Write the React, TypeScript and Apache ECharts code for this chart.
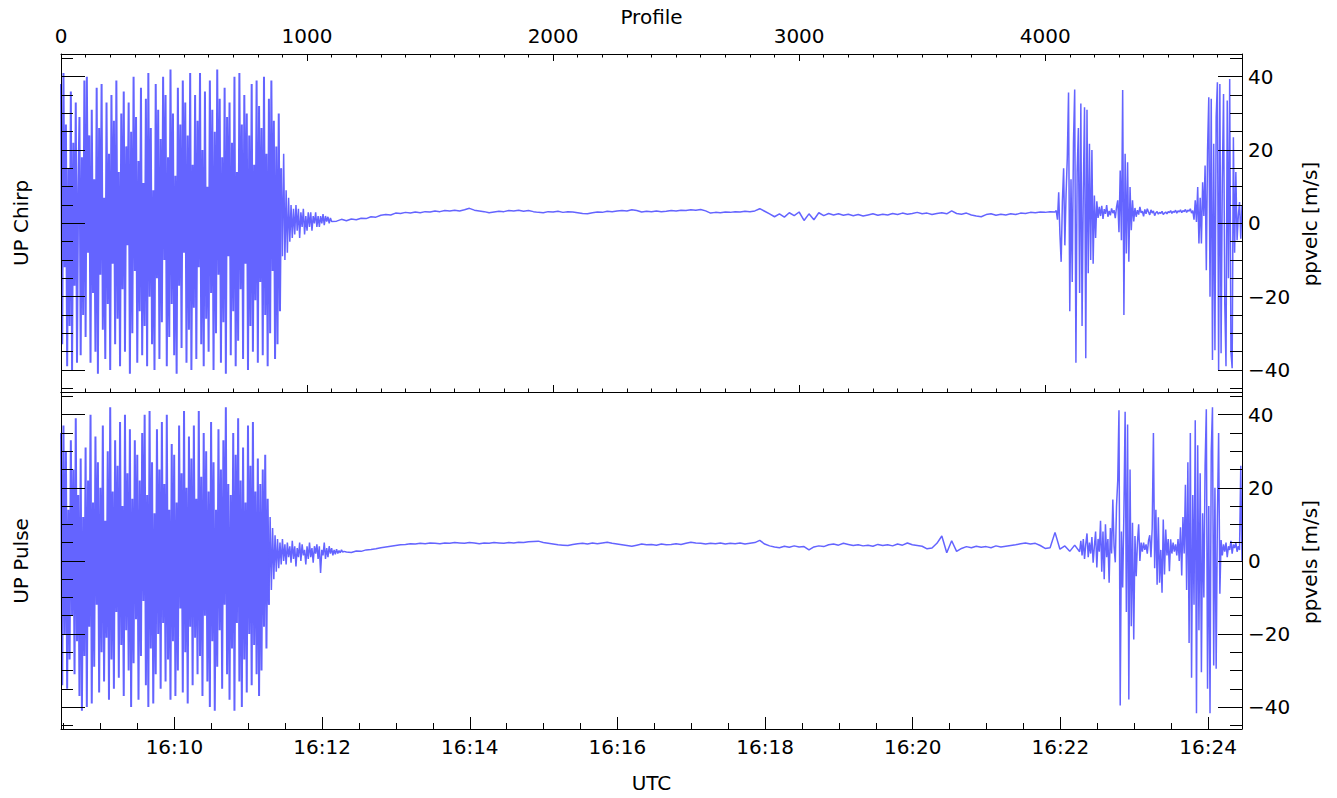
import React, { useEffect, useRef } from "react";
import * as echarts from "echarts";

// ---------- ranges ----------
const PROFILE_MIN = 0;
const PROFILE_MAX = 4800;
const UTC_MIN = 507.8; // seconds after 16:00 UTC  (16:08:27.8)
const UTC_MAX = 1467.6; // 16:24:27.6
const VEL_MIN = -46;
const VEL_MAX = 46.2;

// ---------- tick values ----------
const profileTicks = [0, 1000, 2000, 3000, 4000];
const utcTicks = [600, 720, 840, 960, 1080, 1200, 1320, 1440];
const velTicks = [-40, -20, 0, 20, 40];
const PROFILE_MINOR_STEP = 100;
const UTC_MINOR_STEP = 30;
const VEL_MINOR_STEP = 5;

// ---------- UP Chirp (ppvelc), sampled by profile ----------
const chirpDenseStart = 0;
const chirpDenseStep = 5;
const chirpDense = [
  38, -33, 41, -12, 27, -39, 15, -28, 36, -40,
  22, -17, 33, -38, 9, 29, -36, 18, -25, 39,
  -31, 40, -8, 24, -38, 31, -19, 12, -35, 37,
  -41, 26, -14, 38, -29, 7, -37, 33, -22, 19,
  -40, 35, -11, 28, -33, 39, -26, 14, -39, 30,
  -18, 36, -35, 21, -6, 33, -41, 25, -30, 40,
  -13, 29, -38, 17, -24, 37, -36, 11, -28, 34,
  -39, 41, -20, 26, -33, 9, -40, 38, -15, 31,
  -37, 23, -27, 40, -10, 35, -39, 18, -31, 42,
  -22, 30, -36, 13, -41, 37, -17, 27, -34, 39,
  -8, 33, -38, 24, -29, 41, -40, 16, -23, 35,
  -37, 28, -12, 41, -33, 20, -39, 36, -26, 10,
  -35, 39, -19, 31, -40, 25, -30, 42, -14, 34,
  -38, 18, -27, 37, -41, 29, -9, 33, -36, 22,
  -24, 40, -39, 14, -32, 41, -18, 27, -37, 35,
  -11, 30, -40, 24, -28, 38, -35, 16, -21, 39,
  -38, 32, -16, 26, -36, 40, -25, 19, -39, 34,
  -30, 39, -13, 28, -37, 21, -33, 30, -24, 15,
];
const chirpDecayStart = 900;
const chirpDecayStep = 5;
const chirpDecay = [
  -9, 19, -10, 9, -8, 7, -5, 5, -4, 4,
  -3, 5, -2, 4, -4, 3, -1, 4, -3, 2,
  -2, 3, -1, 3, -2, 2, 0, 3, -1, 2,
  -1, 2, 0, 2.5, -0.5, 2, 0.5, 1.8, 0, 1.5, 0.5,
];
const chirpCalmStart = 1120;
const chirpCalmStep = 20;
const chirpCalm = [
  0.6, 1.1, 0.7, 1.2, 1.0, 1.4, 1.3, 1.8, 1.7, 2.2,
  2.4, 2.3, 2.8, 2.7, 3.0, 2.8, 3.1, 2.9, 3.2, 3.1,
  3.4, 3.2, 3.5, 3.4, 3.6, 3.4, 3.7, 4.1, 3.6, 3.4,
  3.2, 2.9, 3.1, 3.3, 3.2, 3.5, 3.4, 3.6, 3.3, 3.5,
  3.2, 3.0, 2.9, 3.2, 3.1, 3.3, 3.0, 3.2, 3.1, 2.9,
  2.7, 2.6, 2.9, 3.1, 3.0, 3.3, 3.2, 3.4, 3.5, 3.4,
  3.7, 3.5, 3.1, 3.3, 3.2, 3.4, 3.2, 3.3, 3.5, 3.4,
  3.6, 3.5, 3.7, 3.6, 3.8, 3.4, 2.8, 3.0, 2.9, 3.1,
  3.0, 3.2, 3.1, 3.3, 3.2, 3.4, 4.0, 3.3, 2.6, 1.8,
  2.6, 1.7, 2.9, 2.1, 3.1, 0.8, 2.6, 1.0, 2.9, 2.1,
  2.7, 2.3, 2.6, 2.2, 2.5, 2.1, 2.4, 2.0, 2.3, 2.6,
  2.2, 2.5, 2.3, 2.7, 2.4, 2.8, 2.5, 2.7, 3.0, 2.6,
  2.8, 2.4, 2.7, 2.9, 2.6, 3.4, 2.7, 2.5, 2.8, 2.3,
  2.0, 1.8, 2.4, 2.6, 2.2, 2.5, 2.3, 2.6, 2.4, 2.8,
  2.7, 3.0, 2.9, 3.1, 3.0, 3.2, 3.1,
];
const chirpEndStart = 4045;
const chirpEndStep = 5;
const chirpEnd = [
  3.5, 1.0, 8.5, -3, -10.5, 6, 15, -6, 8, 18,
  35.7, -24, 12, -16, 22, 36.5, -38, 14, 26, -19,
  32.7, -28, 9, 31.7, -36.8, 31, -13.6, 21.7, -10, 20,
  -11, 7.6, -4, 6,
  1.5, 4.5, 2, 4.8, 1.2, 3.9, 2.6, 5.0, 1.8, 3.4, 2.2, 4.1, 2.8, 3.6, 1.4, 4.4,
  6.3, -2.4, 14.4, -4.6, 36.4, -25, 19, -8.2, 16.7, -10.5, 9.9, -1.9, 6.3, 0.5,
  4.2, 1.8, 3.6, 2.4, 4.5, 2.9, 3.3, 1.9, 3.8, 2.6,
  4.0, 3.1, 2.3, 3.7, 2.8, 3.4, 2.1, 2.9, 3.2, 2.5,
  3.0, 2.7, 3.3, 2.4, 2.8, 3.1, 2.6, 3.2, 2.9, 3.5,
  2.7, 3.3, 3.0, 3.6, 2.8, 3.4, 3.1, 3.7, 2.9, 3.5,
  3.2, 3.8, 3.0, 3.6, 3.3, 4.0, 2.8, 3.5,
  1.0, 6.3, 0.4, 9.9, -5.5, 7, -5.5, 11.2, 2, 15.8,
  -12.8, 20, 34.4, -20, 34, -37.3, 21.7, -34.6, 29, 38.5,
  -40, 38, -35.4, 12, 35.3, -22, -39, 33.5, -15, 39.4,
  -35, -39.5, 23.5, -8, 14, -4.6, 2, 5.8, -4.2, 5,
];

// ---------- UP Pulse (ppvels), sampled by profile ----------
const pulseDenseStart = 0;
const pulseDenseStep = 5;
const pulseDense = [
  35, -34, 37, -20, 30, -35, 14, -27, 33, -15,
  25, -31, 39, -22, 18, -37, 28, -41, 12, -26,
  31, -40, 22, -18, 40, -39, 16, -29, 34, -12,
  27, -36, 20, -25, 37, -33, 11, -21, 30, -38,
  42, -27, 19, -35, 33, -14, 26, -32, 38, -23,
  15, -37, 40, -19, 24, -30, 36, -40, 17, -28,
  33, -16, 29, -38, 22, -26, 35, -11, 40, -34,
  18, -40, 41, -24, 27, -39, 13, -31, 36, -20,
  25, -35, 38, -17, 21, -33, 40, -27, 14, -38,
  32, -22, 29, -37, 16, -30, 37, -13, 24, -36,
  41, -25, 20, -39, 34, -18, 28, -34, 37, -21,
  17, -31, 41, -26, 23, -37, 35, -15, 30, -33,
  19, -40, 38, -22, 27, -41, 14, -29, 36, -19,
  25, -35, 33, -12, 42, -31, 21, -38, 18, -24,
  35, -41, 29, -17, 39, -33, 22, -40, 31, -27,
  16, -36, 37, -20, 26, -34, 38, -23, 19, -31,
  28, -37, 21, -30, 25, -18, 29, -24, 17, -12,
];
const pulseDecayStart = 850;
const pulseDecayStep = 5;
const pulseDecay = [
  12, -8, 9, -5, 7, -3, 6, -2, 5, -1,
  6, 0, 4.5, -1, 5, 1, 4, -0.5, 5.5, 0.5,
  4, -1.5, 3.5, 1, 5, 0, 4.5, 1.5, 3, -1,
  4, 0.5, 5, 1, 3.5, -0.5, 4, 2, 4.5, 0.5,
  4, -3.3, 3, 1.5, 5, 0.5, 3.5, 1, 4, 2,
  3.5, 1.5, 3, 1.8, 3.2, 2, 2.8, 2.2, 3, 2.4, 2.6,
];
const pulseCalmStart = 1160;
const pulseCalmStep = 20;
const pulseCalm = [
  2.4, 2.3, 2.7, 2.6, 3.0, 3.1, 3.3, 3.6, 3.8, 4.0,
  4.2, 4.4, 4.5, 4.7, 4.6, 4.8, 4.7, 4.9, 4.8, 4.7,
  4.9, 4.8, 5.0, 4.9, 4.8, 5.0, 4.9, 4.7, 4.9, 4.8,
  5.0, 4.9, 4.8, 5.0, 4.9, 5.1, 5.0, 5.2, 5.3, 5.4,
  5.0, 4.8, 4.6, 4.4, 4.3, 4.2, 4.5, 4.7, 4.8, 4.6,
  4.9, 4.7, 4.9, 5.1, 4.8, 4.6, 4.4, 4.2, 4.0, 4.3,
  4.6, 4.4, 4.5, 4.3, 4.6, 4.4, 4.5, 4.7, 4.5, 4.8,
  5.1, 4.9, 4.8, 4.6, 4.8, 4.7, 4.9, 4.6, 4.8, 4.7,
  4.9, 4.6, 4.8, 5.0, 5.6, 4.6, 4.1, 3.8, 3.6, 4.0,
  3.7, 4.1, 3.8, 3.9, 3.0, 3.8, 4.1, 3.9, 4.4, 4.6,
  4.3, 4.8, 4.5, 4.2, 4.4, 4.1, 4.3, 4.0, 4.5, 4.2,
  4.4, 4.1, 4.6, 4.3, 4.9, 4.4, 4.2, 4.0, 3.3, 3.5,
  4.8, 6.8, 2.2, 5.5, 2.6, 3.4, 3.9, 3.6, 4.0, 3.7,
  3.9, 3.6, 4.1, 3.8, 4.0, 4.2, 4.4, 4.7, 4.9, 4.6,
  4.8, 4.2, 3.4, 3.6, 7.8, 3.2, 4.1, 2.6, 4.3, 2.5,
];
const pulseEndStart = 4145;
const pulseEndStep = 5;
const pulseEnd = [
  5.5, 1.5, 6, 0.5, 4.5, 7.5, 1, 5, 2, 6.5, -0.5, 4, 8, -1.8, 6, 2.5,
  11, -3, 8, -5, 10, 1, 6, -6, 9, 2,
  16.8, 4, -0.4, 15, 22, 41.2, -39.6, 8, -7.3, 13.2,
  40.8, -14, 37.3, -37.9, 25, -17.9, 10.4, -21.5, 6.8, -4.2,
  5, 10, 0, 5, 2.5, 5, 3, 4.5, 2, 5.5,
  7, 1, 9, 35, -2, 14, -6.5, 11.9, -6, 3,
  -8.7, 11.3, -3.7, 8.6, 1.5, 6, -2.8, 5.9, 2, 5,
  2.5, 4.5, 1.5, 6,
  0, 9.2, -4, 12, 2, 20.8, -8, 27, -22.5, 35,
  -32, 18, -12, 38.5, -41.7, 31.6, -19, 24, -30.5, 13,
  -10, 26, 41.5, -35, 15, -41.7, 30, 42, -28.6, 20,
  -29.5, 12, 35, -9, 5.7,
  1.5, 4.5, 2.5, 5, 1, 4, 3, 5.5, 2, 4.5, 3.5, 5, 2.5, 4, 3,
  26, 0,
];

// ---------- styling ----------
const FONT = "'DejaVu Sans', 'Liberation Sans', sans-serif";
const LINE_COLOR = "#6464ff";
const AXIS = { color: "#000", width: 1 };

function seg(start: number, step: number, vals: number[]): [number, number][] {
  return vals.map((v, i) => [start + i * step, v]);
}
function stepsBetween(lo: number, hi: number, step: number): number[] {
  const out: number[] = [];
  for (let v = lo; v <= hi + 1e-9; v += step) out.push(Math.round(v * 1000) / 1000);
  return out;
}
const fmtVel = (v: number) => (v < 0 ? "\u2212" + Math.abs(v) : String(v));
const fmtUtc = (v: number) => "16:" + String(Math.round(v / 60)).padStart(2, "0");
const fmtProfile = (v: number) => String(Math.round(v));

const GRID_LEFT = 61;
const GRID_WIDTH = 1181;
const TOP_PANEL = { top: 54, height: 338 };
const BOTTOM_PANEL = { top: 392, height: 337 };

export default function App() {
  const ref = useRef<HTMLDivElement>(null);

  useEffect(() => {
    if (!ref.current) return;
    const chart = echarts.init(ref.current, undefined, { renderer: "svg" });

    const chirpDenseData = seg(chirpDenseStart, chirpDenseStep, chirpDense);
    const chirpRestData = [
      chirpDenseData[chirpDenseData.length - 1],
      ...seg(chirpDecayStart, chirpDecayStep, chirpDecay),
      ...seg(chirpCalmStart, chirpCalmStep, chirpCalm),
      ...seg(chirpEndStart, chirpEndStep, chirpEnd),
    ];
    const pulseDenseData = seg(pulseDenseStart, pulseDenseStep, pulseDense);
    const pulseRestData = [
      pulseDenseData[pulseDenseData.length - 1],
      ...seg(pulseDecayStart, pulseDecayStep, pulseDecay),
      ...seg(pulseCalmStart, pulseCalmStep, pulseCalm),
      ...seg(pulseEndStart, pulseEndStep, pulseEnd),
    ];

    const profileMinor = stepsBetween(PROFILE_MIN + PROFILE_MINOR_STEP, PROFILE_MAX - PROFILE_MINOR_STEP, PROFILE_MINOR_STEP);
    const utcMinor = stepsBetween(510, 1440, UTC_MINOR_STEP);
    const velMinor = stepsBetween(-45, 45, VEL_MINOR_STEP);

    const labelStyle = { fontSize: 20, color: "#000", fontFamily: FONT, fontWeight: "normal" as any };

    const profAxis = (gridIndex: number, position: string, opts: any) => ({
      type: "value",
      gridIndex,
      position,
      min: PROFILE_MIN,
      max: PROFILE_MAX,
      z: 5,
      axisLine: { show: true, onZero: false, lineStyle: AXIS },
      splitLine: { show: false },
      ...opts,
    });
    const utcAxis = (gridIndex: number, opts: any) => ({
      type: "value",
      gridIndex,
      position: "bottom",
      min: UTC_MIN,
      max: UTC_MAX,
      z: 5,
      axisLine: { show: true, onZero: false, lineStyle: AXIS },
      splitLine: { show: false },
      ...opts,
    });
    const velAxis = (gridIndex: number, position: string, opts: any) => ({
      type: "value",
      gridIndex,
      position,
      min: VEL_MIN,
      max: VEL_MAX,
      z: 5,
      axisLine: { show: true, onZero: false, lineStyle: AXIS },
      splitLine: { show: false },
      ...opts,
    });

    const majorVelTick = { show: true, inside: true, length: 24, customValues: velTicks, lineStyle: AXIS };
    const minorVelTick = { show: true, inside: true, length: 12, customValues: velMinor, lineStyle: AXIS };

    const titleText = (text: string, x: number, y: number, rotate: boolean) => ({
      type: "text",
      x,
      y,
      rotation: rotate ? Math.PI / 2 : 0,
      silent: true,
      style: {
        text,
        fill: "#000",
        fontSize: 20,
        fontFamily: FONT,
        fontWeight: "normal",
        align: "center",
        verticalAlign: "middle",
        textAlign: "center",
        textVerticalAlign: "middle",
      },
    });

    const lineSeries = (name: string, xi: number, yi: number, data: any[], width: number) => ({
      name,
      type: "line",
      xAxisIndex: xi,
      yAxisIndex: yi,
      data,
      showSymbol: false,
      symbol: "none",
      silent: true,
      z: 2,
      lineStyle: { color: LINE_COLOR, width },
    });

    const option: any = {
      animation: false,
      backgroundColor: "#fff",
      textStyle: { fontFamily: FONT },
      grid: [
        { left: GRID_LEFT, width: GRID_WIDTH, ...TOP_PANEL, outerBoundsMode: "none" },
        { left: GRID_LEFT, width: GRID_WIDTH, ...BOTTOM_PANEL, outerBoundsMode: "none" },
        { left: GRID_LEFT, width: GRID_WIDTH, ...TOP_PANEL, outerBoundsMode: "none" },
        { left: GRID_LEFT, width: GRID_WIDTH, ...BOTTOM_PANEL, outerBoundsMode: "none" },
      ],
      xAxis: [
        profAxis(0, "top", {
          axisTick: { show: true, inside: true, length: 7, customValues: profileTicks, lineStyle: AXIS },
          axisLabel: { show: true, customValues: profileTicks, formatter: fmtProfile, margin: 8, ...labelStyle },
        }),
        profAxis(0, "bottom", {
          axisTick: { show: true, inside: true, length: 7, customValues: profileTicks, lineStyle: AXIS },
          axisLabel: { show: false },
        }),
        utcAxis(1, {
          axisTick: { show: true, inside: true, length: 12, customValues: utcTicks, lineStyle: AXIS },
          axisLabel: { show: true, customValues: utcTicks, formatter: fmtUtc, margin: 8, ...labelStyle },
        }),
        profAxis(1, "top", {
          axisTick: { show: false },
          axisLabel: { show: false },
        }),
        profAxis(2, "top", {
          axisLine: { show: false, onZero: false },
          axisTick: { show: true, inside: true, length: 3.5, customValues: profileMinor, lineStyle: AXIS },
          axisLabel: { show: false },
        }),
        profAxis(2, "bottom", {
          axisLine: { show: false, onZero: false },
          axisTick: { show: true, inside: true, length: 3.5, customValues: profileMinor, lineStyle: AXIS },
          axisLabel: { show: false },
        }),
        utcAxis(3, {
          axisLine: { show: false, onZero: false },
          axisTick: { show: true, inside: true, length: 6, customValues: utcMinor, lineStyle: AXIS },
          axisLabel: { show: false },
        }),
      ],
      yAxis: [
        velAxis(0, "left", { axisTick: majorVelTick, axisLabel: { show: false } }),
        velAxis(0, "right", {
          axisTick: majorVelTick,
          axisLabel: { show: true, customValues: velTicks, formatter: fmtVel, margin: 6, ...labelStyle },
        }),
        velAxis(1, "left", { axisTick: majorVelTick, axisLabel: { show: false } }),
        velAxis(1, "right", {
          axisTick: majorVelTick,
          axisLabel: { show: true, customValues: velTicks, formatter: fmtVel, margin: 6, ...labelStyle },
        }),
        velAxis(2, "left", { axisLine: { show: false, onZero: false }, axisTick: minorVelTick, axisLabel: { show: false } }),
        velAxis(2, "right", { axisLine: { show: false, onZero: false }, axisTick: minorVelTick, axisLabel: { show: false } }),
        velAxis(3, "left", { axisLine: { show: false, onZero: false }, axisTick: minorVelTick, axisLabel: { show: false } }),
        velAxis(3, "right", { axisLine: { show: false, onZero: false }, axisTick: minorVelTick, axisLabel: { show: false } }),
      ],
      series: [
        lineSeries("ppvelc", 0, 0, chirpDenseData, 2),
        lineSeries("ppvelc", 0, 0, chirpRestData, 1.5),
        lineSeries("ppvels", 3, 2, pulseDenseData, 2),
        lineSeries("ppvels", 3, 2, pulseRestData, 1.5),
      ],
      graphic: [
        titleText("Profile", 651.5, 17, false),
        titleText("UTC", 651.5, 783, false),
        titleText("UP Chirp", 21, 223, true),
        titleText("UP Pulse", 21, 561, true),
        titleText("ppvelc [m/s]", 1310, 224, true),
        titleText("ppvels [m/s]", 1310, 562, true),
      ],
    };

    chart.setOption(option);
    return () => chart.dispose();
  }, []);

  return (
    <div
      ref={ref}
      style={{ position: "absolute", left: 0, top: 0, width: 1337, height: 798, background: "#fff" }}
    />
  );
}
